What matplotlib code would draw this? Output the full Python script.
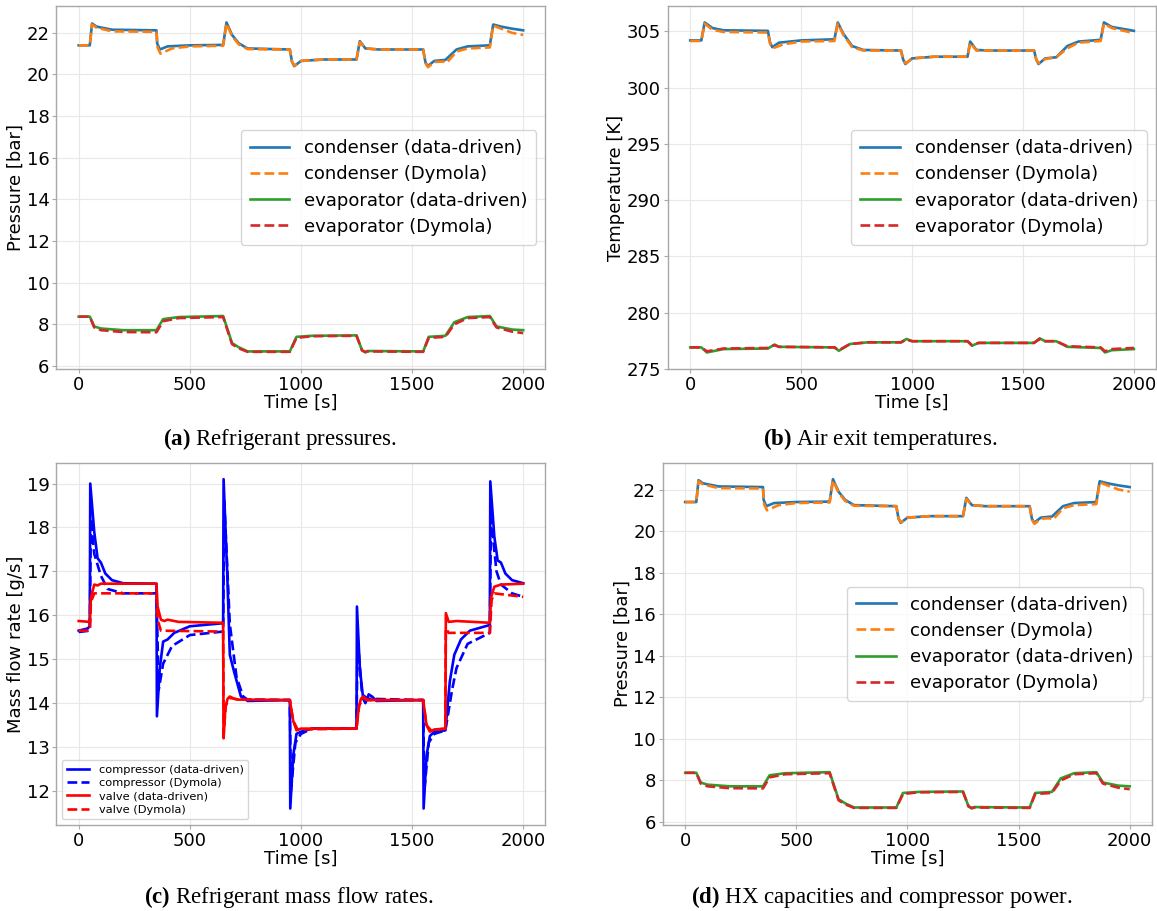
import matplotlib
matplotlib.use("Agg")
import matplotlib.pyplot as plt

# ---------------- data: (a)/(d) refrigerant pressures [bar] ----------------
t_pc_dd = [0, 50, 60, 80, 150, 350, 353, 365, 400, 500, 650, 665, 690, 720, 760, 950,
           960, 970, 1000, 1100, 1250, 1265, 1290, 1350, 1550, 1560, 1570, 1600, 1650,
           1700, 1750, 1850, 1865, 1900, 1950, 2000]
p_pc_dd = [21.4, 21.4, 22.45, 22.3, 22.15, 22.12, 21.5, 21.2, 21.35, 21.4, 21.42, 22.5,
           21.9, 21.5, 21.25, 21.2, 20.6, 20.4, 20.65, 20.72, 20.72, 21.6, 21.25, 21.2,
           21.2, 20.6, 20.4, 20.65, 20.7, 21.2, 21.35, 21.4, 22.4, 22.3, 22.2, 22.12]
t_pc_dy = [0, 50, 60, 80, 150, 350, 355, 368, 420, 500, 650, 665, 690, 720, 760, 950,
           960, 972, 1000, 1100, 1250, 1265, 1290, 1350, 1550, 1560, 1572, 1600, 1640,
           1655, 1700, 1750, 1850, 1865, 1900, 1950, 2000]
p_pc_dy = [21.4, 21.4, 22.4, 22.25, 22.07, 22.05, 21.3, 21.0, 21.25, 21.35, 21.38, 22.45,
           21.85, 21.45, 21.22, 21.2, 20.6, 20.42, 20.65, 20.72, 20.72, 21.55, 21.25, 21.2,
           21.2, 20.55, 20.35, 20.6, 20.62, 20.55, 21.1, 21.25, 21.3, 22.35, 22.2, 22.0, 21.9]
t_pe_dd = [0, 50, 70, 100, 200, 350, 380, 450, 650, 690, 720, 760, 950, 980, 1050, 1250,
           1275, 1290, 1300, 1550, 1575, 1650, 1690, 1750, 1850, 1880, 1950, 2000]
p_pe_dd = [8.37, 8.37, 7.9, 7.8, 7.72, 7.72, 8.25, 8.35, 8.4, 7.1, 6.9, 6.7, 6.7, 7.4,
           7.45, 7.47, 6.75, 6.65, 6.72, 6.7, 7.4, 7.45, 8.1, 8.35, 8.4, 7.9, 7.75, 7.72]
t_pe_dy = [0, 50, 70, 100, 200, 350, 380, 450, 650, 690, 720, 760, 950, 980, 1050, 1250,
           1275, 1290, 1300, 1550, 1575, 1650, 1690, 1750, 1850, 1880, 1950, 2000]
p_pe_dy = [8.37, 8.37, 7.85, 7.72, 7.63, 7.62, 8.15, 8.3, 8.35, 7.05, 6.85, 6.68, 6.68,
           7.35, 7.43, 7.45, 6.75, 6.68, 6.7, 6.68, 7.35, 7.4, 8.0, 8.3, 8.35, 7.85,
           7.65, 7.58]

# ---------------- data: (b) air exit temperatures [K] ----------------
t_tc_dd = [0, 50, 65, 100, 150, 350, 360, 370, 400, 500, 650, 665, 690, 730, 780, 950,
           960, 970, 1000, 1100, 1250, 1262, 1290, 1350, 1550, 1560, 1570, 1600, 1650,
           1700, 1750, 1850, 1865, 1900, 2000]
T_tc_dd = [304.2, 304.2, 305.8, 305.3, 305.1, 305.05, 304.0, 303.6, 304.0, 304.2, 304.3,
           305.8, 304.8, 303.7, 303.35, 303.3, 302.5, 302.1, 302.6, 302.75, 302.75, 304.1,
           303.35, 303.3, 303.3, 302.5, 302.1, 302.6, 302.7, 303.7, 304.1, 304.25, 305.8,
           305.4, 305.05]
t_tc_dy = [0, 50, 65, 100, 150, 350, 360, 372, 420, 500, 650, 665, 690, 730, 780, 950,
           960, 972, 1000, 1100, 1250, 1262, 1290, 1350, 1550, 1560, 1572, 1600, 1650,
           1700, 1750, 1850, 1865, 1900, 2000]
T_tc_dy = [304.15, 304.15, 305.7, 305.15, 304.95, 304.9, 303.9, 303.5, 303.85, 304.1,
           304.15, 305.7, 304.7, 303.6, 303.3, 303.3, 302.5, 302.15, 302.6, 302.75, 302.75,
           304.0, 303.3, 303.3, 303.3, 302.5, 302.15, 302.55, 302.7, 303.5, 304.0, 304.15,
           305.7, 305.3, 304.85]
t_te_dd = [0, 50, 75, 150, 350, 380, 400, 650, 670, 720, 800, 950, 975, 1000, 1250, 1270,
           1300, 1550, 1575, 1600, 1650, 1700, 1850, 1870, 1900, 2000]
T_te_dd = [276.9, 276.9, 276.45, 276.75, 276.8, 277.15, 276.95, 276.9, 276.6, 277.2,
           277.35, 277.35, 277.65, 277.45, 277.45, 277.05, 277.3, 277.3, 277.7, 277.45,
           277.45, 276.95, 276.85, 276.45, 276.65, 276.75]
t_te_dy = [0, 50, 75, 150, 350, 380, 400, 650, 670, 720, 800, 950, 975, 1000, 1250, 1270,
           1300, 1550, 1575, 1600, 1650, 1700, 1850, 1870, 1900, 2000]
T_te_dy = [276.9, 276.9, 276.55, 276.8, 276.85, 277.1, 276.95, 276.9, 276.65, 277.2,
           277.35, 277.35, 277.6, 277.45, 277.45, 277.1, 277.3, 277.3, 277.65, 277.45,
           277.45, 277.0, 276.9, 276.55, 276.75, 276.85]

# ---------------- data: (c) refrigerant mass flow rates [g/s] ----------------
t_mc_dd = [0, 40, 50, 52, 70, 85, 100, 120, 150, 200, 350, 352, 365, 380, 400, 430, 500,
           650, 652, 668, 680, 700, 730, 760, 950, 952, 965, 980, 1000, 1050, 1250, 1252,
           1265, 1280, 1290, 1305, 1320, 1340, 1550, 1552, 1565, 1580, 1600, 1650, 1670,
           1690, 1720, 1760, 1850, 1852, 1870, 1885, 1900, 1920, 1950, 2000]
m_mc_dd = [15.65, 15.7, 15.75, 19.0, 17.9, 17.3, 17.2, 16.95, 16.8, 16.73, 16.72, 13.7,
           14.8, 15.4, 15.45, 15.6, 15.75, 15.82, 19.1, 17.0, 15.1, 14.7, 14.15, 14.05,
           14.07, 11.6, 12.8, 13.3, 13.35, 13.42, 13.42, 16.2, 14.8, 14.1, 14.0, 14.2,
           14.15, 14.05, 14.07, 11.6, 12.8, 13.25, 13.35, 13.38, 14.5, 15.1, 15.45, 15.65,
           15.78, 19.05, 17.8, 17.25, 17.2, 16.95, 16.8, 16.73]
t_mc_dy = [0, 50, 55, 70, 100, 130, 200, 350, 360, 380, 420, 500, 650, 655, 680, 710,
           740, 760, 950, 955, 975, 1000, 1050, 1250, 1255, 1275, 1300, 1550, 1555, 1575,
           1600, 1650, 1680, 1700, 1750, 1850, 1855, 1880, 1900, 1950, 2000]
m_mc_dy = [15.62, 15.65, 18.2, 17.4, 16.9, 16.6, 16.5, 16.5, 14.3, 14.9, 15.3, 15.55,
           15.63, 18.6, 15.8, 14.6, 14.15, 14.08, 14.07, 12.0, 13.1, 13.3, 13.42, 13.42,
           15.5, 14.2, 14.1, 14.07, 12.0, 13.1, 13.3, 13.38, 14.3, 14.8, 15.35, 15.6,
           18.2, 17.0, 16.7, 16.5, 16.42]
t_mv_dd = [0, 50, 55, 70, 85, 100, 350, 355, 370, 385, 400, 450, 650, 652, 660, 670, 680,
           700, 720, 950, 965, 980, 1000, 1250, 1260, 1270, 1280, 1300, 1550, 1565, 1580,
           1600, 1650, 1652, 1665, 1700, 1850, 1855, 1870, 1900, 2000]
m_mv_dd = [15.87, 15.85, 16.4, 16.7, 16.68, 16.72, 16.72, 16.2, 15.9, 15.87, 15.9, 15.85,
           15.83, 13.2, 13.9, 14.1, 14.15, 14.1, 14.08, 14.07, 13.6, 13.38, 13.42, 13.42,
           13.9, 14.1, 14.15, 14.07, 14.07, 13.5, 13.35, 13.4, 13.42, 16.05, 15.85, 15.87,
           15.83, 16.4, 16.65, 16.7, 16.72]
t_mv_dy = [0, 50, 55, 70, 350, 355, 370, 650, 652, 662, 680, 720, 950, 965, 985, 1250,
           1262, 1280, 1300, 1550, 1565, 1585, 1650, 1652, 1665, 1850, 1858, 1870, 1950,
           2000]
m_mv_dy = [15.65, 15.65, 16.3, 16.5, 16.5, 15.9, 15.65, 15.63, 13.3, 13.95, 14.12, 14.08,
           14.07, 13.6, 13.4, 13.42, 13.95, 14.1, 14.07, 14.07, 13.5, 13.38, 13.42, 15.7,
           15.6, 15.6, 16.35, 16.5, 16.45, 16.42]

labels_hx = ["condenser (data-driven)", "condenser (Dymola)",
             "evaporator (data-driven)", "evaporator (Dymola)"]
labels_mf = ["compressor (data-driven)", "compressor (Dymola)",
             "valve (data-driven)", "valve (Dymola)"]
captions = [("(a)", "Refrigerant pressures."),
            ("(b)", "Air exit temperatures."),
            ("(c)", "Refrigerant mass flow rates."),
            ("(d)", "HX capacities and compressor power.")]

# ---------------- figure ----------------
plt.rcParams['font.family'] = ['DejaVu Sans']
plt.rcParams['mathtext.fontset'] = 'custom'
plt.rcParams['mathtext.rm'] = 'Liberation Serif'
plt.rcParams['mathtext.bf'] = 'Liberation Serif:bold'

fig = plt.figure(figsize=(11.57, 9.11), dpi=100)
FS = 13

def style(ax):
    ax.grid(True, color='#e8e8e8', linewidth=0.8)
    ax.set_axisbelow(True)
    for s in ax.spines.values():
        s.set_color('#a8a8a8')
        s.set_linewidth(1.0)
    ax.tick_params(labelsize=FS, color='#a8a8a8', length=3, pad=2)
    ax.set_xticks([0, 500, 1000, 1500, 2000])
    ax.set_xlabel("Time [s]", fontsize=FS, labelpad=0)

axA = fig.add_axes([0.0488, 0.5950, 0.4226, 0.3985])
axB = fig.add_axes([0.5774, 0.5950, 0.4218, 0.3985])
axC = fig.add_axes([0.0488, 0.0944, 0.4226, 0.3977])
axD = fig.add_axes([0.5730, 0.0944, 0.4226, 0.3977])

lw = 1.9
for ax in (axA, axD):
    ax.plot(t_pc_dd, p_pc_dd, color='tab:blue', lw=lw, label=labels_hx[0])
    ax.plot(t_pc_dy, p_pc_dy, color='tab:orange', lw=lw, ls='--', label=labels_hx[1])
    ax.plot(t_pe_dd, p_pe_dd, color='tab:green', lw=lw, label=labels_hx[2])
    ax.plot(t_pe_dy, p_pe_dy, color='tab:red', lw=lw, ls='--', label=labels_hx[3])
    ax.set_ylabel("Pressure [bar]", fontsize=FS, labelpad=1)
    ax.set_yticks([6, 8, 10, 12, 14, 16, 18, 20, 22])
    style(ax)
    ax.legend(loc='center right', fontsize=FS, handlelength=2.2, borderpad=0.5,
              labelspacing=0.45)

axB.plot(t_tc_dd, T_tc_dd, color='tab:blue', lw=lw, label=labels_hx[0])
axB.plot(t_tc_dy, T_tc_dy, color='tab:orange', lw=lw, ls='--', label=labels_hx[1])
axB.plot(t_te_dd, T_te_dd, color='tab:green', lw=lw, label=labels_hx[2])
axB.plot(t_te_dy, T_te_dy, color='tab:red', lw=lw, ls='--', label=labels_hx[3])
axB.set_ylabel("Temperature [K]", fontsize=FS, labelpad=1)
axB.set_yticks([275, 280, 285, 290, 295, 300, 305])
style(axB)
axB.legend(loc='center right', fontsize=FS, handlelength=2.2, borderpad=0.5,
           labelspacing=0.45)

axC.plot(t_mc_dd, m_mc_dd, color='blue', lw=lw, label=labels_mf[0])
axC.plot(t_mc_dy, m_mc_dy, color='blue', lw=lw, ls='--', label=labels_mf[1])
axC.plot(t_mv_dd, m_mv_dd, color='red', lw=lw, label=labels_mf[2])
axC.plot(t_mv_dy, m_mv_dy, color='red', lw=lw, ls='--', label=labels_mf[3])
axC.set_ylabel("Mass flow rate [g/s]", fontsize=FS, labelpad=1)
axC.set_yticks([12, 13, 14, 15, 16, 17, 18, 19])
style(axC)
axC.legend(loc='lower left', fontsize=8.2, handlelength=2.0, borderpad=0.4,
           labelspacing=0.3)

# captions
cap_pos = [(280 / 1157, 1 - 439 / 911), (880 / 1157, 1 - 439 / 911),
           (289 / 1157, 1 - 897 / 911), (882 / 1157, 1 - 897 / 911)]
for (bold, rest), (x, y) in zip(captions, cap_pos):
    fig.text(x, y, r"$\mathbf{" + bold + r"}$ " + rest, fontsize=16.5,
             family='Liberation Serif', ha='center', va='center')

fig.savefig("out.png", dpi=100)
